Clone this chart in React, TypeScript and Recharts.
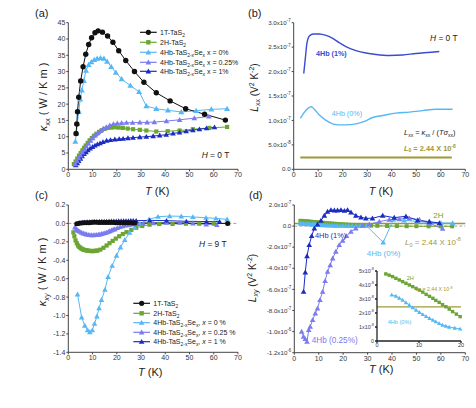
import { LineChart, Line, XAxis, YAxis, ReferenceLine } from 'recharts'

// ---- data: [T (K), value] ----
// (a) kappa_xx, W/Km
const a1T = [[3.2,11],[3.5,13.9],[3.8,17.7],[4.3,22.1],[5.1,27.1],[6.1,31.5],[7.2,35.3],[8.4,38.3],[9.6,40.4],[11,41.9],[12.3,42.5],[14.1,42.1],[16.2,40.9],[18.4,39],[20.8,36.4],[23.7,33.4],[27.3,30],[31.2,26.7],[36.3,23.5],[42,21],[48.4,18.6],[56.2,16.9],[64.8,15.1]]
const a2H = [[2.3,1.6],[3,2.4],[3.7,3.3],[4.4,4.2],[5.1,5],[5.8,5.8],[6.5,6.6],[7.2,7.3],[8,8.1],[8.8,8.9],[9.7,9.6],[10.6,10.3],[11.6,10.9],[12.7,11.5],[13.8,12],[15,12.4],[16.3,12.7],[17.7,12.8],[19.2,12.9],[20.8,12.8],[22.5,12.7],[24.5,12.5],[26.7,12.3],[29.5,12.1],[32.2,11.9],[36.3,11.6],[41,11.7],[45.9,11.9],[51.4,12.3],[58.2,12.7],[65.5,13]]
const a0 = [[2.9,8.5],[3.3,11],[3.7,14],[4.3,17.7],[4.9,21.5],[5.6,24.3],[6.4,27.2],[7.3,30.3],[8.4,32.1],[9.5,32.9],[10.7,33.6],[11.9,34],[13.3,34.2],[14.7,34],[16,33.1],[17.7,31.5],[19.6,29.7],[22,27.7],[25.6,25.7],[29.2,23.8],[32.2,19.4],[36.3,18.6],[41.1,18.1],[46.6,17.6],[52.7,18],[59,18.4],[65.5,18.6]]
const a025 = [[2.9,1.6],[3.6,2.5],[4.3,3.4],[5,4.3],[5.8,5.2],[6.6,6.1],[7.4,7],[8.3,7.9],[9.2,8.8],[10.1,9.6],[11.1,10.4],[12.1,11.1],[13.2,11.8],[14.4,12.5],[15.7,13],[17.1,13.5],[18.6,13.9],[20.2,14.1],[22,14.2],[24,14.3],[26.5,14.3],[29.5,14.4],[32.5,14.4],[35.5,14.5],[40.5,14.8],[45.9,15.2],[52,15.7],[58,16.2]]
const a1 = [[3.1,1.3],[3.7,1.9],[4.3,2.6],[5,3.3],[5.7,4],[6.5,4.7],[7.3,5.3],[8.1,5.9],[9,6.4],[10,6.9],[11,7.3],[12,7.7],[13.1,8],[14.3,8.4],[15.8,8.8],[17.4,9],[19.2,9.2],[21,9.3],[22.6,9.4],[24.6,9.6],[26.7,9.7],[29.5,9.9],[32.2,10],[35,10.2],[37.7,10.4],[40.4,10.6],[43.2,11],[45.9,11.3],[48.6,11.7],[51.4,12],[54.1,12.3],[57,12.6],[60.3,12.9]]

// (b) L_xx in 1e-7 V^2/K^2
const b1 = [[4.1,1.96],[4.8,2.3],[5.4,2.58],[6.4,2.73],[8,2.77],[10.5,2.77],[13.2,2.74],[15.9,2.68],[18.6,2.59],[21.3,2.51],[25.4,2.43],[29.5,2.38],[33.6,2.35],[39,2.33],[44.4,2.34],[49.9,2.37],[54.6,2.39],[59.4,2.41]]
const b0 = [[2.7,1.04],[4.1,1.15],[5.4,1.23],[7.1,1.28],[8.4,1.23],[10.5,1.11],[13.2,1.0],[15.9,0.93],[18.6,0.91],[21.3,0.91],[25.4,0.93],[28.8,0.98],[32.2,1.06],[36.3,1.1],[41.7,1.15],[47.2,1.17],[52.6,1.2],[58,1.23],[64.8,1.23]]
const bL0 = [[2.7,0.244],[64.5,0.244]]

// (c) kappa_xy, W/Km
const c1T = [[3.5,-0.005],[4.5,0.003],[5.5,0.005],[6.5,0.006],[7.5,0.007],[8.5,0.008],[9.5,0.01],[10.5,0.012],[11.5,0.012],[12.5,0.011],[13.5,0.01],[14.5,0.01],[15.5,0.011],[16.5,0.01],[17.5,0.01],[18.5,0.009],[19.5,0.008],[20.5,0.008],[21.5,0.007],[22.5,0.007],[23.5,0.006],[24.5,0.006],[25.5,0.006],[26.5,0.005],[27.5,0.005],[65.7,0]]
const c2H = [[2.1,-0.097],[2.5,-0.14],[3,-0.185],[3.5,-0.215],[4,-0.24],[4.5,-0.255],[5,-0.265],[5.5,-0.275],[6,-0.282],[6.5,-0.287],[7,-0.29],[7.5,-0.293],[8,-0.296],[8.5,-0.298],[9,-0.299],[9.5,-0.3],[10,-0.3],[10.5,-0.3],[11,-0.299],[11.5,-0.297],[12,-0.295],[13.2,-0.285],[14.5,-0.265],[15.8,-0.24],[17,-0.215],[18.3,-0.19],[19.6,-0.165],[21,-0.14],[22.5,-0.115],[24,-0.095],[26,-0.07],[28,-0.048],[30.5,-0.028],[33.5,-0.014],[37.5,-0.006],[43,-0.005],[48.5,-0.003],[54,-0.003],[60,-0.002],[66,0]]
const c0 = [[3.8,-0.77],[5.5,-1.02],[6.8,-1.11],[8,-1.16],[8.9,-1.18],[9.9,-1.16],[10.8,-1.09],[11.8,-1.01],[12.7,-0.92],[13.7,-0.83],[15.1,-0.72],[16.4,-0.58],[18.1,-0.46],[19.9,-0.35],[21.5,-0.26],[23.3,-0.18],[25.3,-0.1],[27.4,-0.046],[29.5,-0.003],[33.3,0.044],[37,0.073],[41.8,0.08],[46.6,0.077],[51.4,0.07],[56.8,0.062],[60.9,0.055],[65.5,0.044]]
const c025 = [[2.7,-0.043],[3.3,-0.06],[3.8,-0.072],[4.3,-0.082],[4.8,-0.09],[5.5,-0.1],[6.2,-0.108],[6.9,-0.114],[7.5,-0.119],[8.2,-0.123],[8.9,-0.126],[9.6,-0.127],[10.3,-0.127],[11,-0.126],[11.7,-0.124],[12.4,-0.121],[13,-0.119],[13.7,-0.114],[14.4,-0.109],[15.1,-0.104],[15.8,-0.098],[16.5,-0.09],[17.1,-0.083],[17.8,-0.076],[18.5,-0.068],[19.2,-0.061],[20.2,-0.05],[21.3,-0.039],[22.5,-0.029],[23.7,-0.021],[25,-0.015],[26.7,-0.01],[28.5,-0.006],[30.9,-0.003],[35,0.004],[40.5,0.008],[46,0.008],[51.4,0],[56.9,-0.01],[61.3,-0.017]]
const c1 = [[3.7,-0.006],[4.8,0.008],[5.8,0.012],[6.8,0.015],[7.8,0.017],[8.8,0.018],[9.8,0.02],[10.8,0.02],[11.8,0.021],[12.8,0.022],[13.8,0.022],[14.8,0.023],[15.8,0.023],[16.8,0.024],[17.8,0.025],[18.8,0.025],[19.8,0.026],[20.8,0.027],[21.8,0.027],[22.8,0.028],[23.8,0.028],[24.8,0.029],[25.8,0.03],[26.8,0.03],[28,0.03],[33.6,0.033],[40.5,0.03],[48.7,0.023],[57,0.02],[62.4,0.02]]

// (d) L_xy in 1e-7 V^2/K^2
const d2H = [[2.5,0.5],[3.2,0.49],[3.9,0.47],[4.6,0.46],[5.3,0.44],[6,0.43],[6.7,0.41],[7.4,0.4],[8.1,0.38],[8.8,0.37],[9.5,0.35],[10.2,0.34],[11,0.32],[11.8,0.31],[12.7,0.29],[13.6,0.27],[14.5,0.26],[15.5,0.24],[16.5,0.22],[17.5,0.2],[18.6,0.19],[19.8,0.17],[21,0.15],[22.3,0.13],[23.7,0.11],[25.2,0.1],[27,0.08],[29,0.06],[31.5,0.04],[34,0.03],[38,0.01],[42,0],[46,-0.01],[50,-0.01],[55,-0.02],[60,-0.02],[64.6,-0.02]]
const d0 = [[2.5,0.26],[3.2,0.24],[3.9,0.22],[4.6,0.21],[5.3,0.2],[6,0.19],[6.7,0.18],[7.4,0.17],[8.1,0.16],[8.8,0.15],[9.5,0.14],[10.2,0.12],[11,0.11],[11.8,0.1],[12.7,0.09],[13.6,0.08],[14.5,0.07],[15.5,0.06],[16.5,0.05],[17.5,0.05],[18.6,0.04],[19.8,0.04],[21,0.03],[22.3,0.03],[23.7,0.02],[25.2,0.02],[27,0.02],[29.5,0.04],[36.4,-1.54],[40.5,0.6],[45,0.55],[50,0.45],[55,0.36],[60,0.3],[64.8,0.28]]
const d025 = [[3,-10],[3.8,-10.48],[4.5,-10.7],[5.2,-10.96],[5.9,-9.85],[6.5,-9.53],[7.5,-8.9],[8.6,-8.27],[9.5,-7.8],[10.5,-7],[11.6,-6.22],[12.6,-5.2],[13.6,-4.32],[14.7,-3.69],[15.7,-3.06],[17,-2.42],[18.4,-1.79],[19.8,-1.38],[21.4,-0.94],[23.2,-0.53],[25.2,-0.21],[28,0.04],[30.7,0.17],[34.8,0.42],[38.9,0.61],[43,0.67],[47.1,0.74],[51.2,0.61],[55.3,0.26],[60.7,-0.25]]
const d1 = [[3.8,-6.22],[4.5,-4.38],[5.2,-2.84],[6.1,-1.79],[7.1,-0.94],[8.2,-0.21],[9.5,0.17],[10.9,0.52],[12.3,0.99],[13.6,1.37],[15,1.53],[16.4,1.49],[17.7,1.49],[19.1,1.53],[20.5,1.46],[21.8,1.53],[23.2,1.31],[25.2,0.99],[27.3,0.83],[29.3,0.74],[32,0.74],[36.2,0.99],[40.9,0.8],[45.7,0.93],[50.5,0.55],[55.3,0.42],[59.4,0.29]]
const L0 = 0.244

// (d) inset, L_xy in 1e-8
const i2H = [[2.1,4.79],[2.9,4.7],[3.7,4.6],[4.5,4.48],[5.3,4.36],[6.1,4.24],[6.9,4.12],[7.7,4.0],[8.5,3.88],[9.3,3.76],[10.1,3.64],[10.9,3.49],[11.7,3.33],[12.5,3.19],[13.3,3.05],[14,2.9],[14.8,2.76],[15.6,2.6],[16.4,2.45],[17.2,2.28],[18,2.1],[18.9,1.92],[19.8,1.74]]
const i0 = [[3.5,3.29],[4.5,3.21],[5.3,3.07],[6.1,2.93],[6.9,2.75],[7.7,2.57],[8.5,2.39],[9.3,2.21],[10.1,2.05],[10.9,1.9],[11.7,1.76],[12.5,1.62],[13.3,1.5],[14,1.38],[14.8,1.26],[15.6,1.14],[16.4,1.07],[17.2,1.0],[18.5,0.93],[19.8,0.86]]

const xTicks = [0, 10, 20, 30, 40, 50, 60, 70]
const aTicks = [0, 5, 10, 15, 20, 25, 30, 35, 40, 45]
const bTicks = [0, 0.5, 1, 1.5, 2, 2.5, 3]
const cTicks = [0.2, 0, -0.2, -0.4, -0.6, -0.8, -1.0, -1.2, -1.4]
const dTicks = [2, 0, -2, -4, -6, -8, -10, -12]

const C = {
  black: '#111', green: '#6ba632', lblue: '#55b8f5', mblue: '#7a7bf0',
  dblue: '#1b2cc2', bline: '#3a4bd0', olive: '#a09838', axis: '#444', tick: '#333',
}

const pts = (a: number[][]) => a.map(([T, v]) => ({ T, v }))

// marker shapes
const circ = (c: string, r: number) => (p: any) =>
  p.cx == null ? <g key={p.index} /> : <circle key={p.index} cx={p.cx} cy={p.cy} r={r} fill={c} />
const sq = (c: string, s: number) => (p: any) =>
  p.cx == null ? <g key={p.index} /> : <rect key={p.index} x={p.cx - s / 2} y={p.cy - s / 2} width={s} height={s} fill={c} />
const tri = (c: string, s: number) => (p: any) =>
  p.cx == null ? <g key={p.index} /> : (
    <polygon key={p.index} fill={c}
      points={`${p.cx},${p.cy - s} ${p.cx - s},${p.cy + s * 0.75} ${p.cx + s},${p.cy + s * 0.75}`} />
  )

// scientific tick, value v is in units of 10^base
const sciTick = (base: number, fs: number, oneDecimal: boolean) => (props: any) => {
  const { x, y, payload } = props
  const v = payload.value
  if (Math.abs(v) < 1e-9) {
    return <text x={x} y={y} dy={fs * 0.35} textAnchor="end" fontSize={fs} fill={C.tick}>{oneDecimal ? '0.0' : '0'}</text>
  }
  const e = Math.floor(Math.log10(Math.abs(v)) + 1e-9)
  const m = v / Math.pow(10, e)
  const ms = oneDecimal ? m.toFixed(1) : String(Math.round(m))
  return (
    <text x={x} y={y} dy={fs * 0.35} textAnchor="end" fontSize={fs} fill={C.tick}>
      {ms}x10<tspan dy={-fs * 0.45} fontSize={fs * 0.72}>{e + base}</tspan>
    </text>
  )
}

function Panel({ pos, size, margin, yW, xH, yDomain, yTicks, yTick, children }: any) {
  return (
    <div style={{ position: 'absolute', left: pos[0], top: pos[1] }}>
      <LineChart width={size[0]} height={size[1]} margin={margin}>
        <XAxis type="number" dataKey="T" domain={[0, 70]} ticks={xTicks} height={xH} stroke={C.axis}
          tick={{ fontSize: 7, fill: C.tick }} tickSize={2} tickMargin={1} allowDataOverflow />
        <XAxis xAxisId="top" orientation="top" type="number" dataKey="T" domain={[0, 70]} ticks={xTicks}
          height={0} stroke={C.axis} tickFormatter={() => ''} tickSize={2} />
        <YAxis type="number" domain={yDomain} ticks={yTicks} width={yW} stroke={C.axis}
          tick={yTick ?? { fontSize: 7, fill: C.tick }} tickFormatter={yTick ? undefined : (v: number) => (yTicks.includes(0.2) ? v.toFixed(1) : String(v))}
          tickSize={2} tickMargin={1} allowDataOverflow interval={0} />
        <YAxis yAxisId="r" orientation="right" type="number" domain={yDomain} ticks={yTicks} width={0}
          stroke={C.axis} tickFormatter={() => ''} tickSize={2} />
        {children}
      </LineChart>
    </div>
  )
}

const ln = (key: string, data: number[][], color: string, dot: any, extra: any = {}) => (
  <Line key={key} data={pts(data)} dataKey="v" stroke={color} strokeWidth={1} dot={dot}
    isAnimationActive={false} type="linear" {...extra} />
)

const compound = (fs: number, tail: any) => (
  <>
    4Hb-TaS<tspan fontSize={fs * 0.7} dy={fs * 0.25}>2-x</tspan>
    <tspan dy={-fs * 0.25}>Se</tspan>
    <tspan fontSize={fs * 0.7} dy={fs * 0.25}>x</tspan>
    <tspan dy={-fs * 0.25}>{tail}</tspan>
  </>
)

const simple = (fs: number, name: string) => (
  <>{name}<tspan fontSize={fs * 0.7} dy={fs * 0.25}>2</tspan></>
)

function Legend({ x0, x1, tx, rows, entries, fs }: any) {
  return (
    <g>
      {entries.map((e: any, i: number) => {
        const y = rows[i]
        const mid = (x0 + x1) / 2
        return (
          <g key={i}>
            <line x1={x0} x2={x1} y1={y} y2={y} stroke={e.color} strokeWidth={1.2} />
            {e.shape({ cx: mid, cy: y, index: 0 })}
            <text x={tx} y={y + fs * 0.35} fontSize={fs} fill="#222">{e.label}</text>
          </g>
        )
      })}
    </g>
  )
}

export default function App() {
  const fsL = 7
  const legA = [
    { color: C.black, shape: circ(C.black, 2.6), label: simple(fsL, '1T-TaS') },
    { color: C.green, shape: sq(C.green, 4.4), label: simple(fsL, '2H-TaS') },
    { color: C.lblue, shape: tri(C.lblue, 2.8), label: compound(fsL, ' x = 0%') },
    { color: C.mblue, shape: tri(C.mblue, 2.8), label: compound(fsL, ' x = 0.25%') },
    { color: C.dblue, shape: tri(C.dblue, 2.8), label: compound(fsL, ' x = 1%') },
  ]
  const legC = [
    { color: C.black, shape: circ(C.black, 2.6), label: simple(fsL, '1T-TaS') },
    { color: C.green, shape: sq(C.green, 4.4), label: simple(fsL, '2H-TaS') },
    { color: C.lblue, shape: tri(C.lblue, 2.8), label: compound(fsL, <>, <tspan fontStyle="italic">x</tspan> = 0 %</>) },
    { color: C.mblue, shape: tri(C.mblue, 2.8), label: compound(fsL, <>, <tspan fontStyle="italic">x</tspan> = 0.25 %</>) },
    { color: C.dblue, shape: tri(C.dblue, 2.8), label: compound(fsL, <>, <tspan fontStyle="italic">x</tspan> = 1 %</>) },
  ]

  return (
    <div style={{ position: 'absolute', left: 0, top: 0, width: 476, height: 408, background: '#fff',
      fontFamily: '"Liberation Sans", Arial, sans-serif', overflow: 'hidden' }}>
      {/* (a) */}
      <Panel pos={[0, 0]} size={[250, 195]} margin={{ top: 22.7, right: 12, bottom: 0, left: 0 }}
        yW={68.3} xH={25.7} yDomain={[0, 45]} yTicks={aTicks}>
        {ln('a2H', a2H, C.green, sq(C.green, 4.2))}
        {ln('a1', a1, C.dblue, tri(C.dblue, 2.8))}
        {ln('a025', a025, C.mblue, tri(C.mblue, 2.8))}
        {ln('a0', a0, C.lblue, tri(C.lblue, 3))}
        {ln('a1T', a1T, C.black, circ(C.black, 2.7))}
      </Panel>

      {/* (b) */}
      <Panel pos={[236, 0]} size={[240, 195]} margin={{ top: 22.7, right: 10.7, bottom: 0, left: 0 }}
        yW={57.7} xH={25.7} yDomain={[0, 3]} yTicks={bTicks} yTick={sciTick(-7, 6.2, true)}>
        {ln('bL0', bL0, C.olive, false, { strokeWidth: 2 })}
        {ln('b0', b0, C.lblue, false, { type: 'monotone', strokeWidth: 1.4 })}
        {ln('b1', b1, C.bline, false, { type: 'monotone', strokeWidth: 1.4 })}
      </Panel>

      {/* (c) */}
      <Panel pos={[0, 195]} size={[250, 180]} margin={{ top: 10, right: 12, bottom: 0, left: 0 }}
        yW={68.3} xH={22.7} yDomain={[-1.4, 0.2]} yTicks={cTicks}>
        <ReferenceLine y={0} stroke="#888" strokeDasharray="3 2" strokeWidth={0.8} />
        {ln('c2H', c2H, C.green, sq(C.green, 4.2))}
        {ln('c0', c0, C.lblue, tri(C.lblue, 2.8))}
        {ln('c025', c025, C.mblue, tri(C.mblue, 2.8))}
        {ln('c1', c1, C.dblue, tri(C.dblue, 2.6))}
        {ln('c1T', c1T, C.black, circ(C.black, 2.5))}
      </Panel>

      {/* (d) */}
      <Panel pos={[236, 195]} size={[240, 180]} margin={{ top: 10, right: 10.7, bottom: 0, left: 0 }}
        yW={58.3} xH={22.3} yDomain={[-12, 2]} yTicks={dTicks} yTick={sciTick(-7, 6.2, true)}>
        <ReferenceLine y={0} stroke="#888" strokeDasharray="3 2" strokeWidth={0.8} />
        <ReferenceLine y={L0} stroke={C.olive} strokeWidth={1.5} />
        {ln('d2H', d2H, C.green, sq(C.green, 4))}
        {ln('d0', d0, C.lblue, tri(C.lblue, 2.8))}
        {ln('d025', d025, C.mblue, tri(C.mblue, 2.8))}
        {ln('d1', d1, C.dblue, tri(C.dblue, 2.8))}
      </Panel>

      {/* inset */}
      <div style={{ position: 'absolute', left: 377, top: 271, width: 84, height: 70, background: '#fff' }} />
      <div style={{ position: 'absolute', left: 345, top: 265 }}>
        <LineChart width={122} height={88} margin={{ top: 6, right: 6, bottom: 0, left: 0 }}>
          <XAxis type="number" dataKey="T" domain={[0, 20]} ticks={[0, 10, 20]} height={12} stroke="#222"
            strokeWidth={1.3} tick={{ fontSize: 5.5, fill: C.tick }} tickSize={2} tickMargin={0} />
          <XAxis xAxisId="top" orientation="top" type="number" dataKey="T" domain={[0, 20]} height={0}
            stroke="#222" strokeWidth={1.3} tick={false} tickLine={false} />
          <YAxis type="number" domain={[0, 5]} ticks={[0, 1, 2, 3, 4, 5]} width={32} stroke="#222"
            strokeWidth={1.3} tick={sciTick(-8, 5.3, false)} tickSize={2} tickMargin={1} interval={0} />
          <YAxis yAxisId="r" orientation="right" type="number" domain={[0, 5]} width={0} stroke="#222"
            strokeWidth={1.3} tick={false} tickLine={false} />
          <ReferenceLine y={2.44} stroke={C.olive} strokeWidth={1.2} />
          {ln('i2H', i2H, C.green, sq(C.green, 3.4))}
          {ln('i0', i0, C.lblue, tri(C.lblue, 2.2))}
        </LineChart>
      </div>

      {/* text overlay */}
      <svg width={476} height={408} style={{ position: 'absolute', left: 0, top: 0, pointerEvents: 'none' }}
        fontFamily='"Liberation Sans", Arial, sans-serif'>
        <text x={35} y={17} fontSize={11} fill="#222">(a)</text>
        <text x={248} y={17} fontSize={11} fill="#222">(b)</text>
        <text x={35} y={199} fontSize={11} fill="#222">(c)</text>
        <text x={249} y={199} fontSize={11} fill="#222">(d)</text>

        {[[145, 195], [368.7, 195], [138, 376], [369, 373]].map(([x, y], i) => (
          <text key={i} x={x} y={y} fontSize={11} fill="#222"><tspan fontStyle="italic">T</tspan> (K)</text>
        ))}

        <text x={47} y={97} transform="rotate(-90 47 97)" textAnchor="middle" fontSize={11} fill="#222">
          <tspan fontStyle="italic">κ</tspan><tspan fontSize={7.5} dy={2.5}>xx</tspan><tspan dy={-2.5}> ( W / K m )</tspan>
        </text>
        <text x={46} y={272} transform="rotate(-90 46 272)" textAnchor="middle" fontSize={11} fill="#222">
          <tspan fontStyle="italic">κ</tspan><tspan fontSize={7.5} dy={2.5} fontStyle="italic">xy</tspan><tspan dy={-2.5}> ( W / K m )</tspan>
        </text>
        <text x={257.5} y={87.5} transform="rotate(-90 257.5 87.5)" textAnchor="middle" fontSize={10} fill="#222">
          <tspan fontStyle="italic">L</tspan><tspan fontSize={7} dy={2.5}>xx</tspan><tspan dy={-2.5}> (V</tspan>
          <tspan fontSize={7} dy={-4}>2</tspan><tspan dy={4}> K</tspan><tspan fontSize={7} dy={-4}>-2</tspan><tspan dy={4}>)</tspan>
        </text>
        <text x={255.5} y={278} transform="rotate(-90 255.5 278)" textAnchor="middle" fontSize={10} fill="#222">
          <tspan fontStyle="italic">L</tspan><tspan fontSize={7} dy={2.5} fontStyle="italic">xy</tspan><tspan dy={-2.5}> (V</tspan>
          <tspan fontSize={7} dy={-4}>2</tspan><tspan dy={4}> K</tspan><tspan fontSize={7} dy={-4}>-2</tspan><tspan dy={4}>)</tspan>
        </text>

        <Legend x0={140} x1={156.7} tx={160} rows={[32.3, 42.3, 52.3, 62.3, 71.3]} entries={legA} fs={fsL} />
        <Legend x0={133.3} x1={150} tx={153.3} rows={[303.3, 313.3, 322.7, 332.3, 341.7]} entries={legC} fs={fsL} />

        <text x={201.7} y={158.3} fontSize={8.4} fill="#222"><tspan fontStyle="italic">H</tspan> = 0 T</text>
        <text x={430} y={40.7} fontSize={8.4} fill="#222"><tspan fontStyle="italic">H</tspan> = 0 T</text>
        <text x={199} y={246.7} fontSize={8.4} fill="#222"><tspan fontStyle="italic">H</tspan> = 9 T</text>

        {/* (b) annotations */}
        <text x={316} y={55.5} fontSize={7.2} fill={C.bline} fontWeight="bold">4Hb (1%)</text>
        <text x={331.7} y={115.7} fontSize={7.2} fill={C.lblue}>4Hb (0%)</text>
        <text x={404} y={135} fontSize={7.4} fill="#222">
          <tspan fontStyle="italic">L</tspan><tspan fontSize={5} dy={1.8}>xx</tspan><tspan dy={-1.8}> = </tspan>
          <tspan fontStyle="italic">κ</tspan><tspan fontSize={5} dy={1.8}>xx</tspan><tspan dy={-1.8}> / (</tspan>
          <tspan fontStyle="italic">Tσ</tspan><tspan fontSize={5} dy={1.8}>xx</tspan><tspan dy={-1.8}>)</tspan>
        </text>
        <text x={404} y={150.5} fontSize={7.4} fill={C.olive} fontWeight="bold">
          <tspan fontStyle="italic">L</tspan><tspan fontSize={5} dy={1.8}>0</tspan><tspan dy={-1.8}> = 2.44 X 10</tspan>
          <tspan fontSize={5} dy={-3}>-8</tspan>
        </text>

        {/* (d) annotations */}
        <text x={433.3} y={218} fontSize={8} fill={C.green}>2H</text>
        <text x={315} y={237.5} fontSize={7.4} fill={C.dblue}>4Hb (1%)</text>
        <text x={405} y={244.5} fontSize={8} fill={C.olive}>
          <tspan fontStyle="italic">L</tspan><tspan fontSize={5.5} dy={2}>0</tspan><tspan dy={-2}> = 2.44 X 10</tspan>
          <tspan fontSize={5.5} dy={-3.2}>-8</tspan>
        </text>
        <text x={366.7} y={255.7} fontSize={8} fill={C.lblue}>4Hb (0%)</text>
        <text x={311.7} y={343} fontSize={8.2} fill={C.mblue}>4Hb (0.25%)</text>

        {/* inset annotations */}
        <text x={406.7} y={280} fontSize={5.6} fill={C.green}>2H</text>
        <text x={416} y={291} fontSize={5.2} fill={C.olive}>
          <tspan fontStyle="italic">L</tspan><tspan fontSize={3.8} dy={1.3}>0</tspan><tspan dy={-1.3}> = 2.44 X 10</tspan>
          <tspan fontSize={3.8} dy={-2.2}>-8</tspan>
        </text>
        <text x={387.7} y={324} fontSize={5.6} fill={C.lblue}>4Hb (0%)</text>
      </svg>
    </div>
  )
}
